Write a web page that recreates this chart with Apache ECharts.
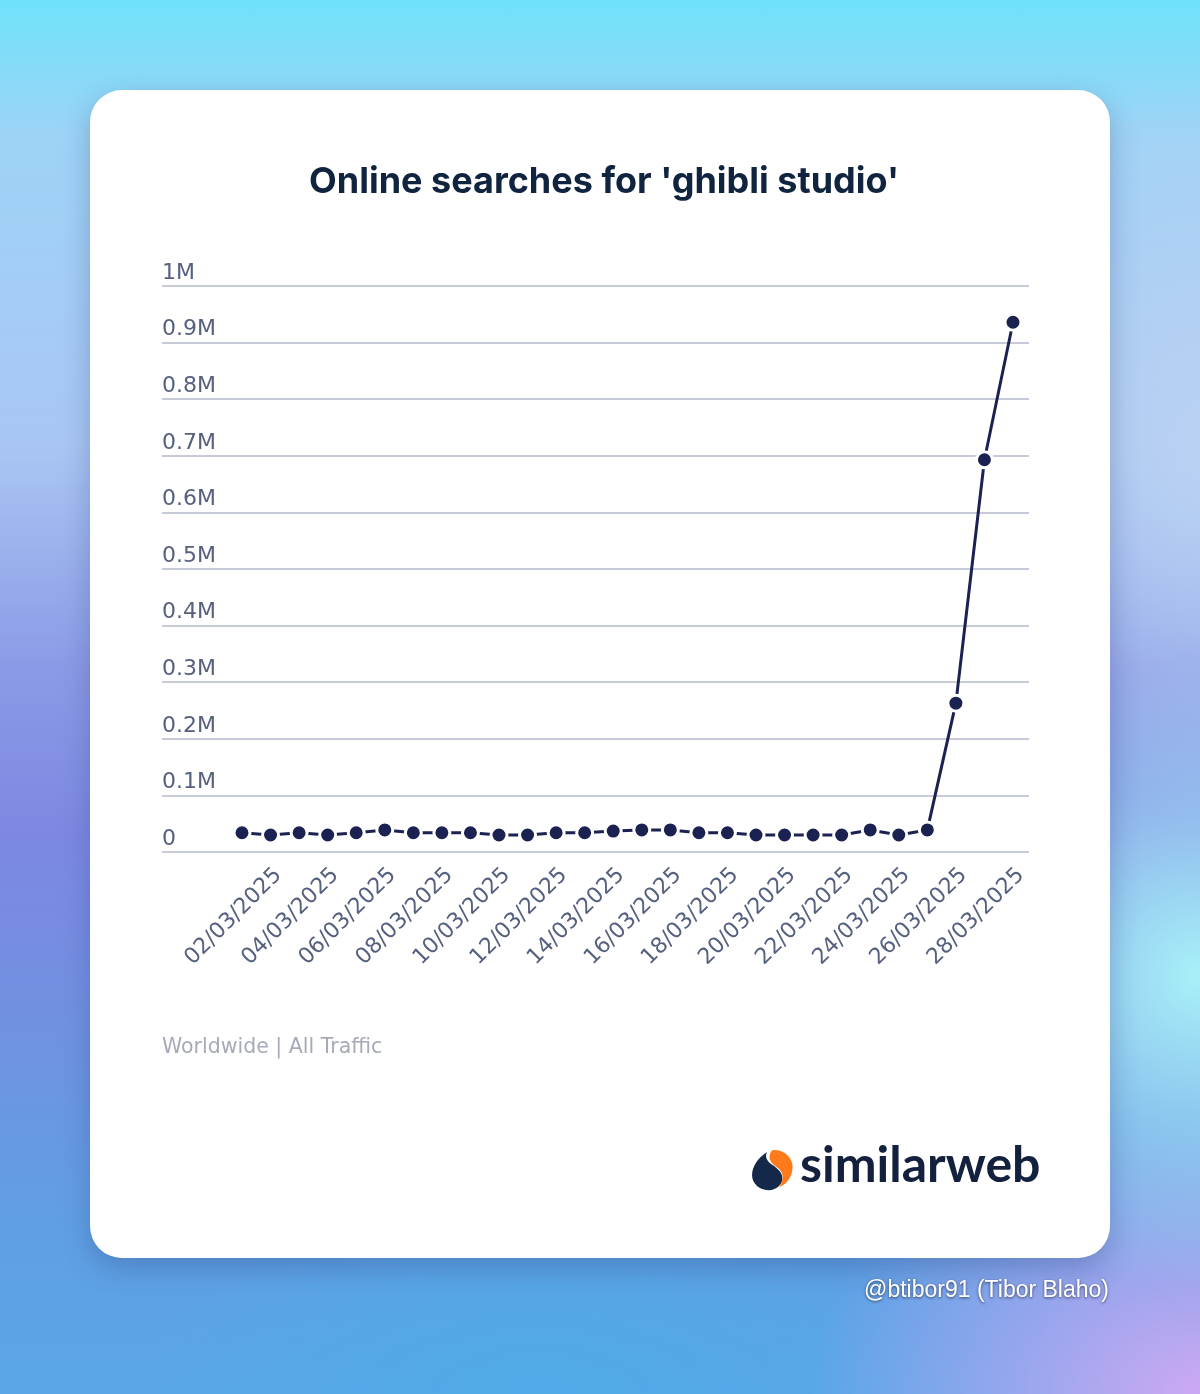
<!DOCTYPE html>
<html><head><meta charset="utf-8">
<script src="https://cdn.jsdelivr.net/npm/echarts@6/dist/echarts.min.js"></script>
<style>
html,body{margin:0;padding:0;width:1200px;height:1394px;overflow:hidden;}
body{background:
 radial-gradient(ellipse 420px 420px at 100% 70%, rgba(168,240,248,1), rgba(168,240,248,0) 75%),
 radial-gradient(ellipse 520px 380px at 100% 100%, rgba(205,168,243,1), rgba(205,168,243,0) 75%),
 radial-gradient(ellipse 300px 500px at 100% 32%, rgba(185,210,243,1), rgba(185,210,243,0) 75%),
 radial-gradient(ellipse 500px 260px at 45% 100%, rgba(80,170,232,1), rgba(80,170,232,0) 80%),
 linear-gradient(180deg, #6fe2fa 0%, #9ed3f6 10%, #a9c6f3 32%, #8b9ae6 48%, #7d88e2 60%, #7290e2 72%, #609fe4 88%, #5aa6e8 100%);}
#card{position:absolute;left:90px;top:90px;width:1020px;height:1168px;background:#fff;border-radius:32px;box-shadow:0 10px 28px rgba(40,60,120,0.3);}
#chart{position:absolute;left:0;top:0;width:1200px;height:1394px;}
</style></head>
<body>
<div id="card"></div>
<div id="chart"></div>
<script>
const titleText = "Online searches for 'ghibli studio'";
const dates = ['01/03/2025','02/03/2025','03/03/2025','04/03/2025','05/03/2025','06/03/2025','07/03/2025',
  '08/03/2025','09/03/2025','10/03/2025','11/03/2025','12/03/2025','13/03/2025','14/03/2025',
  '15/03/2025','16/03/2025','17/03/2025','18/03/2025','19/03/2025','20/03/2025','21/03/2025',
  '22/03/2025','23/03/2025','24/03/2025','25/03/2025','26/03/2025','27/03/2025','28/03/2025'];
const searches = [34000,30000,34000,30000,34000,39000,34000,34000,34000,30000,30000,34000,34000,37000,
  39000,39000,34000,34000,30000,30000,30000,30000,39000,30000,39000,263000,693000,936000];
const yTickLabels = ['0','0.1M','0.2M','0.3M','0.4M','0.5M','0.6M','0.7M','0.8M','0.9M','1M'];
const footnote = 'Worldwide | All Traffic';
const brand = 'similarweb';
const credit = '@btibor91 (Tibor Blaho)';

// sample cubic bezier outline into polygon points (logo decoration)
function bez(start, segs){
  const pts=[start]; let p0=start;
  segs.forEach(s=>{
    const [c1,c2,p3]=s;
    for(let k=1;k<=12;k++){const t=k/12,u=1-t;
      pts.push([u*u*u*p0[0]+3*u*u*t*c1[0]+3*u*t*t*c2[0]+t*t*t*p3[0],
                u*u*u*p0[1]+3*u*u*t*c1[1]+3*u*t*t*c2[1]+t*t*t*p3[1]]);}
    p0=p3;});
  return pts;
}
const navyLogo = bez([767,1152],[[[753,1161],[747,1177],[757,1186]],[[765,1193],[779,1191],[782,1181]],[[784,1173],[777,1168],[771,1164]],[[766,1160],[765,1156],[767,1152]]]);
const orangeLogo = bez([774,1150],[[[787,1150],[795,1161],[792,1172]],[[790,1180],[785,1185],[779,1187]],[[784,1180],[784,1173],[778,1168]],[[772,1164],[768,1160],[770,1154]],[[771,1151],[772,1150],[774,1150]]]);

const navy = '#1b2252';
const labelColor = '#56607f';
const axisFont = '"DejaVu Sans"';
const chart = echarts.init(document.getElementById('chart'), null, {renderer:'canvas'});
chart.setOption({
  animation:false,
  backgroundColor:'transparent',
  title:{text:titleText,left:304,top:159,
    textStyle:{fontFamily:'Inter',fontWeight:'bold',fontSize:36,color:'#10233f'}},
  grid:[
    {left:162,right:171,top:286,height:566},
    {left:242,right:187,top:286,height:566}
  ],
  xAxis:[
    {gridIndex:0,type:'value',show:false,min:0,max:1},
    {gridIndex:1,type:'category',data:dates,boundaryGap:false,
      axisLine:{show:false},axisTick:{show:false},
      axisLabel:{rotate:45,interval:(i)=>i%2===1,color:labelColor,fontFamily:axisFont,fontSize:22,margin:12,
        verticalAlign:'top'}}
  ],
  yAxis:[
    {gridIndex:0,type:'value',min:0,max:1000000,interval:100000,
      axisLine:{show:false},axisTick:{show:false},
      splitLine:{show:true,lineStyle:{color:'#b4b9ca',width:1.5}},
      axisLabel:{inside:true,margin:0,verticalAlign:'bottom',align:'left',padding:[0,0,2,0],
        color:labelColor,fontFamily:axisFont,fontSize:22,
        formatter:(v)=>yTickLabels[Math.round(v/100000)]}},
    {gridIndex:1,type:'value',min:0,max:1000000,show:false}
  ],
  series:[{
    type:'line',xAxisIndex:1,yAxisIndex:1,data:searches,
    symbol:'circle',symbolSize:16,
    lineStyle:{color:navy,width:3},
    itemStyle:{color:navy,borderColor:'#fff',borderWidth:3}
  }],
  graphic:[
    {type:'text',x:162,y:1037,style:{text:footnote,fill:'#a6abb7',font:'20.5px "DejaVu Sans"'}},
    {type:'polygon',shape:{points:navyLogo},style:{fill:'#14294a'}},
    {type:'polygon',shape:{points:orangeLogo},style:{fill:'#ff7a1a'}},
    {type:'text',x:800,y:1141,style:{text:brand,fill:'#13213f',font:'bold 50px Lato'}},
    {type:'text',x:1109,y:1279,style:{text:credit,fill:'#ffffff',font:'23px "Liberation Sans"',align:'right',
      textShadowColor:'rgba(0,0,0,0.6)',textShadowBlur:3,textShadowOffsetY:1.5}}
  ]
});
</script>
</body></html>
